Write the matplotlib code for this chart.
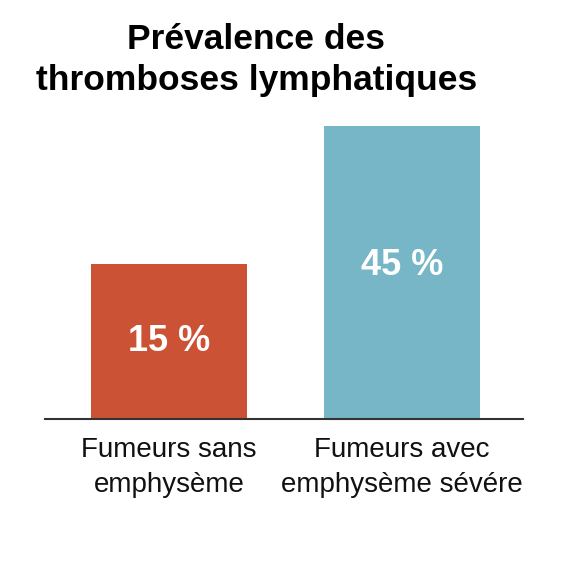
import numpy as np
import matplotlib
matplotlib.use('Agg')
import matplotlib.pyplot as plt

# données
categories = ['Fumeurs sans\nemphysème', 'Fumeurs avec\nemphysème sévére']
values = np.array([15, 45])
value_labels = ['15 %', '45 %']
colors = ['#CC5236', '#77B6C6']
title = 'Prévalence des\nthromboses lymphatiques'

# l'image n'est pas à l'échelle : l'axe part d'environ -18.5
base = -18.5

plt.rcParams['font.family'] = ['Liberation Sans', 'DejaVu Sans']

fig = plt.figure(figsize=(5.66, 5.66), dpi=100)
ax = fig.add_axes([0.0795, 0.2597, 0.845, 0.5177])

x = np.arange(len(categories))
ax.bar(x, values - base, bottom=base, width=0.67, color=colors)

for xi, v, lab in zip(x, values, value_labels):
    ax.text(xi, (base + v) / 2 + (1.5 if v > 30 else 0), lab, ha='center', va='center',
            color='white', fontsize=26, fontweight='bold')

ax.set_xlim(-0.532, 1.52)
ax.set_ylim(base, values.max())

for s in ['top', 'right', 'left']:
    ax.spines[s].set_visible(False)
ax.spines['bottom'].set_color('#333333')
ax.spines['bottom'].set_linewidth(1.5)
ax.set_yticks([])
ax.set_xticks(x)
ax.set_xticklabels(categories, fontsize=20, linespacing=1.45, color='#111111')
ax.tick_params(axis='x', length=0, pad=13)

fig.text(0.453, 0.959, title, ha='center', va='top', fontsize=25.5,
         fontweight='bold', linespacing=1.3)

fig.savefig('out.png', dpi=100, facecolor='white')
